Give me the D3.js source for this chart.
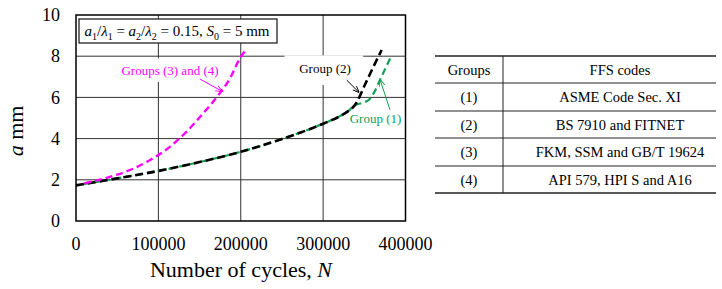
<!DOCTYPE html>
<html>
<head>
<meta charset="utf-8">
<script src="https://cdn.jsdelivr.net/npm/d3@7/dist/d3.min.js"></script>
<style>
  html, body { margin: 0; padding: 0; background: #fff; }
  svg { display: block; font-family: "Liberation Serif", "Times New Roman", serif; }
</style>
</head>
<body>
<svg id="chart" width="722" height="289"></svg>
<script>
// ---- data ----
const xTicks = [0, 100000, 200000, 300000, 400000];
const yTicks = [0, 2, 4, 6, 8, 10];

const group2N = [0, 50000, 100000, 150000, 200000, 250000, 300000, 320000, 330000, 338000, 341000, 350000, 360000, 371000];
const group2A = [1.73, 2.07, 2.43, 2.86, 3.36, 3.98, 4.72, 5.08, 5.32, 5.6, 5.78, 6.55, 7.4, 8.3];

const group1N = [0, 50000, 100000, 150000, 200000, 250000, 300000, 320000, 330000, 338000, 348000, 356000, 362000, 369000, 375000, 382000];
const group1A = [1.73, 2.07, 2.43, 2.86, 3.36, 3.98, 4.72, 5.08, 5.32, 5.6, 5.74, 5.9, 6.25, 6.85, 7.35, 7.95];

const group34N = [10000, 30000, 50000, 70000, 90000, 114000, 134000, 156000, 173000, 187000, 199000, 206000];
const group34A = [1.83, 2.02, 2.25, 2.55, 2.96, 3.6, 4.33, 5.3, 6.12, 6.93, 7.9, 8.3];

const tableGroups = ["(1)", "(2)", "(3)", "(4)"];
const tableCodes = ["ASME Code Sec. XI", "BS 7910 and FITNET", "FKM, SSM and GB/T 19624", "API 579, HPI S and A16"];

// ---- layout ----
const svg = d3.select("#chart");
const x = d3.scaleLinear().domain([0, 400000]).range([76, 405.5]);
const y = d3.scaleLinear().domain([0, 10]).range([221, 15]);

// grid
const g = svg.append("g");
g.selectAll(".vg").data(xTicks.slice(1, -1)).join("line")
  .attr("x1", d => x(d)).attr("x2", d => x(d))
  .attr("y1", y(0)).attr("y2", y(10))
  .attr("stroke", "#333").attr("stroke-width", 1);
g.selectAll(".hg").data(yTicks.slice(1, -1)).join("line")
  .attr("x1", x(0)).attr("x2", x(400000))
  .attr("y1", d => y(d)).attr("y2", d => y(d))
  .attr("stroke", "#333").attr("stroke-width", 1);

// tick labels
svg.append("g").selectAll("text").data(yTicks).join("text")
  .attr("x", 60).attr("y", d => y(d)).attr("dy", "0.34em")
  .attr("text-anchor", "end").attr("font-size", 18).text(d => d);
svg.append("g").selectAll("text").data(xTicks).join("text")
  .attr("x", d => x(d)).attr("y", 250)
  .attr("text-anchor", "middle").attr("font-size", 18).text(d => d);

// axis titles
const xt = svg.append("text").attr("x", 241).attr("y", 277).attr("text-anchor", "middle").attr("font-size", 22);
xt.append("tspan").text("Number of cycles, ");
xt.append("tspan").attr("font-style", "italic").text("N");
const yt = svg.append("text").attr("transform", "translate(23,131) rotate(-90)").attr("text-anchor", "middle").attr("font-size", 22);
yt.append("tspan").attr("font-style", "italic").text("a");
yt.append("tspan").text(" mm");

// label white boxes (hide grid)
svg.append("rect").attr("x", x(253000)).attr("y", y(8.04)).attr("width", x(348600) - x(253000)).attr("height", y(6.6) - y(8.04)).attr("fill", "#fff");
svg.append("rect").attr("x", x(45000)).attr("y", y(7.9)).attr("width", x(175000) - x(45000)).attr("height", y(6.75) - y(7.9)).attr("fill", "#fff");

// curves
const line = d3.line().x(d => x(d[0])).y(d => y(d[1])).curve(d3.curveMonotoneX);
svg.append("path").datum(d3.zip(group1N, group1A)).attr("d", line)
  .attr("fill", "none").attr("stroke", "#12a055").attr("stroke-width", 2.2).attr("stroke-dasharray", "7,4").attr("stroke-dashoffset", 5);
svg.append("path").datum(d3.zip(group2N, group2A)).attr("d", line)
  .attr("fill", "none").attr("stroke", "#000").attr("stroke-width", 2.6).attr("stroke-dasharray", "8,4");
svg.append("path").datum(d3.zip(group34N, group34A)).attr("d", line)
  .attr("fill", "none").attr("stroke", "#ff00ff").attr("stroke-width", 2.4).attr("stroke-dasharray", "7,4");

// plot border
svg.append("rect").attr("x", x(0)).attr("y", y(10)).attr("width", x(400000) - x(0)).attr("height", y(0) - y(10))
  .attr("fill", "none").attr("stroke", "#000").attr("stroke-width", 1.5);

// legend box
svg.append("rect").attr("x", 79).attr("y", 19).attr("width", 198).attr("height", 24)
  .attr("fill", "#fff").attr("stroke", "#222").attr("stroke-width", 1.3);
const lt = svg.append("text").attr("x", 177).attr("y", 36).attr("text-anchor", "middle").attr("font-size", 15);
const parts = [
  { t: "a", it: true }, { t: "1", sub: true }, { t: "/" }, { t: "λ", it: true }, { t: "1", sub: true },
  { t: " = " }, { t: "a", it: true }, { t: "2", sub: true }, { t: "/" }, { t: "λ", it: true }, { t: "2", sub: true },
  { t: " = 0.15, " }, { t: "S", it: true }, { t: "0", sub: true }, { t: " = 5 mm" }
];
let shift = 0;
parts.forEach(p => {
  const target = p.sub ? 3.5 : 0;
  const ts = lt.append("tspan").text(p.t);
  if (target !== shift) ts.attr("dy", target - shift);
  shift = target;
  if (p.it) ts.attr("font-style", "italic");
  if (p.sub) ts.attr("font-size", 10);
});

// arrows
const defs = svg.append("defs");
function marker(id, color) {
  defs.append("marker").attr("id", id).attr("viewBox", "0 0 10 10").attr("refX", 10).attr("refY", 5)
    .attr("markerWidth", 7).attr("markerHeight", 7).attr("orient", "auto-start-reverse").attr("markerUnits", "userSpaceOnUse")
    .append("path").attr("d", "M0,1 L10,5 L0,9").attr("fill", "none").attr("stroke", color).attr("stroke-width", 1.3);
}
marker("am", "#ff00ff"); marker("ak", "#000"); marker("ag", "#12a055");
const annotations = [
  { text: "Groups (3) and (4)", tx: 114100, ta: 7.09, x1: 150500, a1: 6.89, x2: 178100, a2: 6.28, color: "#ff00ff", m: "am" },
  { text: "Group (2)", tx: 302300, ta: 7.18, x1: 328600, a1: 6.84, x2: 343900, a2: 6.23, color: "#000", m: "ak" },
  { text: "Group (1)", tx: 363600, ta: 4.76, x1: 381200, a1: 5.39, x2: 369000, a2: 6.88, color: "#12a055", m: "ag" }
];
annotations.forEach(d => {
  svg.append("text").attr("x", x(d.tx)).attr("y", y(d.ta)).attr("text-anchor", "middle")
    .attr("font-size", 13).attr("fill", d.color).text(d.text);
  svg.append("line").attr("x1", x(d.x1)).attr("y1", y(d.a1)).attr("x2", x(d.x2)).attr("y2", y(d.a2))
    .attr("stroke", d.color).attr("stroke-width", 1).attr("marker-end", `url(#${d.m})`);
});

// table
const rowY = [56, 83, 111, 138, 166, 193];
const tb = svg.append("g");
tb.selectAll("line.h").data(rowY).join("line")
  .attr("x1", 435).attr("x2", 716).attr("y1", d => d).attr("y2", d => d)
  .attr("stroke", "#222").attr("stroke-width", (d, i) => (i === 0 || i === rowY.length - 1) ? 1.5 : 1);
tb.append("line").attr("x1", 503).attr("x2", 503).attr("y1", 56).attr("y2", 193).attr("stroke", "#222").attr("stroke-width", 1);
const rows = [["Groups", "FFS codes"]].concat(d3.zip(tableGroups, tableCodes));
rows.forEach((r, i) => {
  const cy = (rowY[i] + rowY[i + 1]) / 2;
  tb.append("text").attr("x", 469).attr("y", cy).attr("dy", "0.35em").attr("text-anchor", "middle").attr("font-size", 14.5).text(r[0]);
  tb.append("text").attr("x", 620).attr("y", cy).attr("dy", "0.35em").attr("text-anchor", "middle").attr("font-size", 14.5).text(r[1]);
});
</script>
</body>
</html>
